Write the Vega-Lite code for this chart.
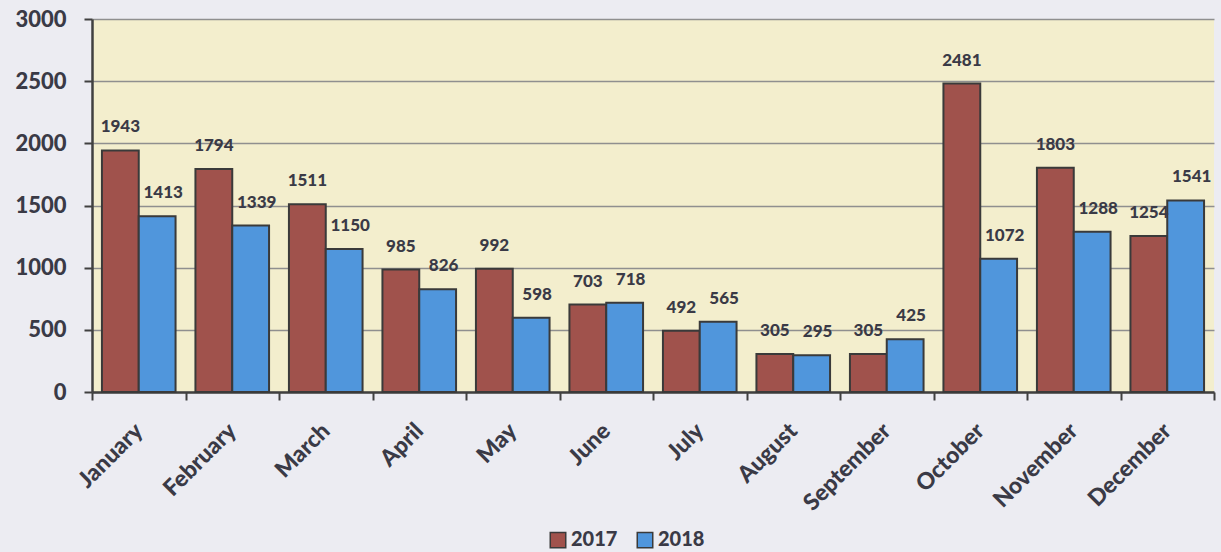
{
  "$schema": "https://vega.github.io/schema/vega-lite/v6.json",
  "width": 1122,
  "height": 373,
  "autosize": {"type": "none"},
  "padding": {"left": 92, "top": 19, "right": 7, "bottom": 160},
  "background": "#ECECF2",
  "config": {
    "view": {"fill": "#F3EECD", "stroke": null},
    "font": "Lato"
  },
  "data": {
    "values": [
      {"month": "January", "year": "2017", "value": 1943},
      {"month": "January", "year": "2018", "value": 1413},
      {"month": "February", "year": "2017", "value": 1794},
      {"month": "February", "year": "2018", "value": 1339},
      {"month": "March", "year": "2017", "value": 1511},
      {"month": "March", "year": "2018", "value": 1150},
      {"month": "April", "year": "2017", "value": 985},
      {"month": "April", "year": "2018", "value": 826},
      {"month": "May", "year": "2017", "value": 992},
      {"month": "May", "year": "2018", "value": 598},
      {"month": "June", "year": "2017", "value": 703},
      {"month": "June", "year": "2018", "value": 718},
      {"month": "July", "year": "2017", "value": 492},
      {"month": "July", "year": "2018", "value": 565},
      {"month": "August", "year": "2017", "value": 305},
      {"month": "August", "year": "2018", "value": 295},
      {"month": "September", "year": "2017", "value": 305},
      {"month": "September", "year": "2018", "value": 425},
      {"month": "October", "year": "2017", "value": 2481},
      {"month": "October", "year": "2018", "value": 1072},
      {"month": "November", "year": "2017", "value": 1803},
      {"month": "November", "year": "2018", "value": 1288},
      {"month": "December", "year": "2017", "value": 1254},
      {"month": "December", "year": "2018", "value": 1541}
    ]
  },
  "encoding": {
    "x": {
      "field": "month",
      "type": "nominal",
      "sort": null,
      "scale": {"paddingInner": 0, "paddingOuter": 0},
      "axis": {
        "title": null,
        "labelAngle": -45,
        "labelAlign": "right",
        "labelBaseline": "middle",
        "labelFont": "Lato",
        "labelFontWeight": 900,
        "labelFontSize": 23,
        "labelColor": "#3A3A46",
        "labelPadding": 27,
        "tickBand": "extent",
        "tickSize": 8,
        "tickWidth": 2,
        "tickColor": "#404040",
        "domainColor": "#404040",
        "domainWidth": 2.5,
        "grid": false
      }
    },
    "xOffset": {
      "field": "year",
      "type": "nominal",
      "scale": {"paddingInner": 0, "paddingOuter": 0.27}
    },
    "y": {
      "field": "value",
      "type": "quantitative",
      "scale": {"domain": [0, 3000], "nice": false},
      "axis": {
        "title": null,
        "format": "d",
        "values": [0, 500, 1000, 1500, 2000, 2500, 3000],
        "labelFont": "Lato",
        "labelFontWeight": 900,
        "labelFontSize": 22,
        "labelColor": "#3A3A46",
        "labelPadding": 18,
        "tickSize": 8,
        "tickWidth": 2,
        "tickColor": "#404040",
        "domainColor": "#404040",
        "domainWidth": 2.5,
        "grid": true,
        "gridColor": "#8F8F8F",
        "gridWidth": 1.5
      }
    }
  },
  "layer": [
    {
      "mark": {"type": "bar", "stroke": "#3A3A3A", "strokeWidth": 2},
      "encoding": {
        "color": {
          "field": "year",
          "type": "nominal",
          "scale": {"domain": ["2017", "2018"], "range": ["#A0524C", "#5096DC"]},
          "legend": {
            "title": null,
            "orient": "none",
            "legendX": 456,
            "legendY": 511,
            "direction": "horizontal",
            "symbolType": "square",
            "symbolSize": 240,
            "symbolStrokeColor": "#3A3A3A",
            "symbolStrokeWidth": 1.5,
            "labelFont": "Lato",
            "labelFontWeight": 900,
            "labelFontSize": 20,
            "labelColor": "#3A3A46",
            "labelOffset": 3,
            "columnPadding": 16
          }
        }
      }
    },
    {
      "transform": [{"filter": "datum.year == '2017'"}],
      "mark": {
        "type": "text",
        "baseline": "alphabetic",
        "dy": -18,
        "font": "Lato",
        "fontWeight": 900,
        "fontSize": 17,
        "color": "#3A3A46"
      },
      "encoding": {
        "text": {"field": "value", "type": "quantitative", "format": "d"}
      }
    },
    {
      "transform": [{"filter": "datum.year == '2018'"}],
      "mark": {
        "type": "text",
        "baseline": "alphabetic",
        "dy": -18,
        "dx": 6,
        "font": "Lato",
        "fontWeight": 900,
        "fontSize": 17,
        "color": "#3A3A46"
      },
      "encoding": {
        "text": {"field": "value", "type": "quantitative", "format": "d"}
      }
    }
  ]
}
